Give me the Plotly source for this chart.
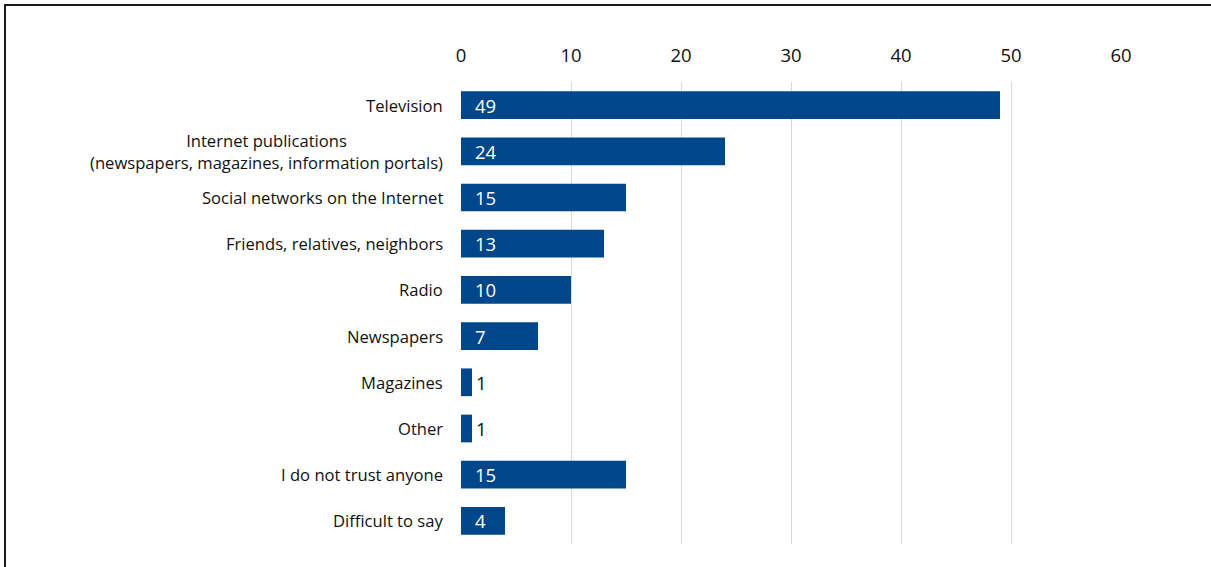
import plotly.graph_objects as go

categories = [
    "Television",
    "Internet publications<br>(newspapers, magazines, information portals)",
    "Social networks on the Internet",
    "Friends, relatives, neighbors",
    "Radio",
    "Newspapers",
    "Magazines",
    "Other",
    "I do not trust anyone",
    "Difficult to say",
]
values = [49, 24, 15, 13, 10, 7, 1, 1, 15, 4]
x_ticks = [0, 10, 20, 30, 40, 50, 60]

BAR = "#00468A"
FONT = "Open Sans"
TXT = "#111111"

fig = go.Figure(go.Bar(
    x=values, y=categories, orientation="h",
    marker=dict(color=BAR, line=dict(width=0)),
    width=0.6, hoverinfo="skip",
))

ann = []
for c, v in zip(categories, values):
    ann.append(dict(x=0, y=c, xref="paper", yref="y", text=c, showarrow=False,
                    xanchor="right", align="center", xshift=-16,
                    font=dict(family=FONT, size=16.6, color=TXT)))
    if v >= 4:
        ann.append(dict(x=0, y=c, xref="x", yref="y", text=str(v), showarrow=False,
                        xanchor="left", xshift=12,
                        font=dict(family=FONT, size=18.5, color="white")))
    else:
        ann.append(dict(x=v, y=c, xref="x", yref="y", text=str(v), showarrow=False,
                        xanchor="left", xshift=2,
                        font=dict(family=FONT, size=18.5, color=TXT)))

fig.update_layout(
    width=1211, height=567,
    margin=dict(l=461, r=90, t=82, b=23),
    paper_bgcolor="white", plot_bgcolor="white",
    showlegend=False,
    annotations=ann,
    xaxis=dict(side="top", range=[0, 60], tickvals=x_ticks, showgrid=True,
               gridcolor="#d9d9d9", gridwidth=1, zeroline=False, showline=False,
               ticks="", ticklabelstandoff=15,
               tickfont=dict(family=FONT, size=18.5, color=TXT)),
    yaxis=dict(autorange="reversed", showticklabels=False, showgrid=False,
               zeroline=False, showline=False, ticks=""),
    shapes=[dict(type="rect", xref="paper", yref="paper",
                 x0=(5 - 461) / 660, x1=2.0, y0=-1.0, y1=(544 - 5) / 462,
                 line=dict(color="#1a1a1a", width=2), fillcolor="rgba(0,0,0,0)",
                 layer="below")],
)

fig.write_html("out.html")
